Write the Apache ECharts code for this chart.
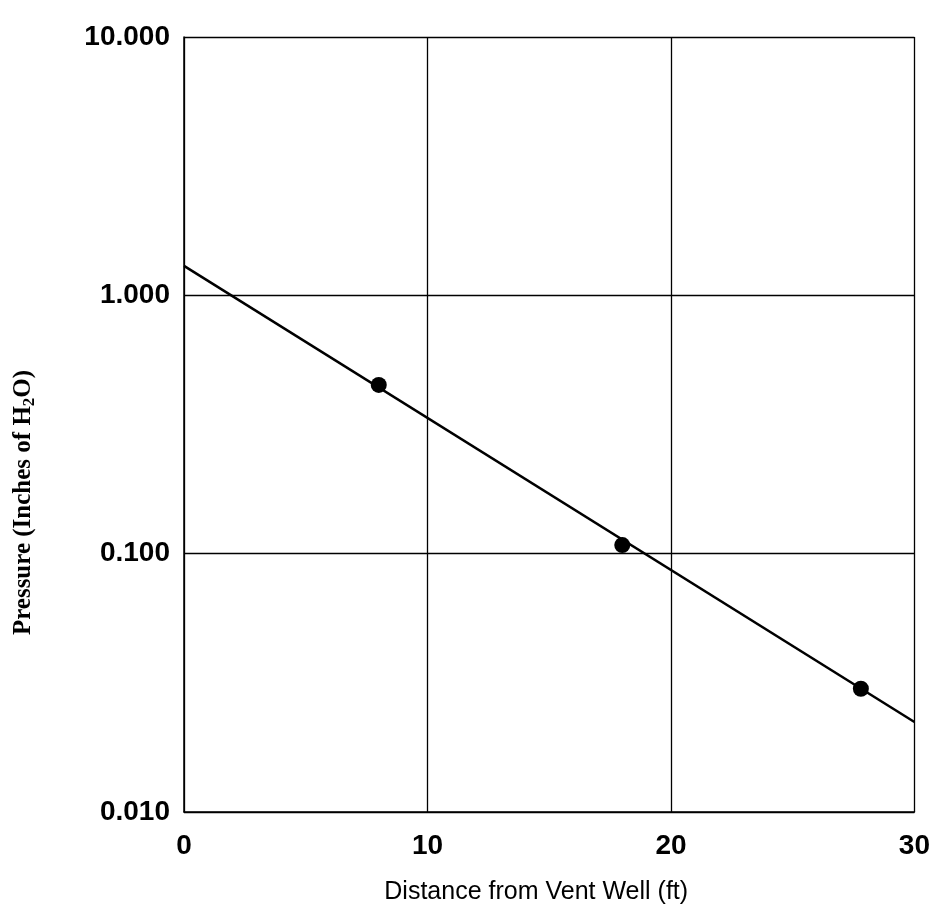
<!DOCTYPE html>
<html>
<head>
<meta charset="utf-8">
<script src="https://cdn.jsdelivr.net/npm/echarts@6/dist/echarts.min.js"></script>
<style>
html,body{margin:0;padding:0;background:#fff;}
#chart{width:933px;height:918px;}
</style>
</head>
<body>
<div id="chart"></div>
<script>
// Measured points: distance (ft) and pressure (inches of H2O)
const distances = [8.0, 18.0, 27.8];
const pressures = [0.45, 0.108, 0.030];
// Fitted trend line end points
const fitX = [0, 30];
const fitY = [1.30, 0.0223];
// Axis ticks
const xTicks = [0, 10, 20, 30];
const yTicks = [0.01, 0.1, 1, 10];

const chart = echarts.init(document.getElementById('chart'));
chart.setOption({
  backgroundColor: '#fff',
  animation: false,
  grid: {left: 184, right: 12, top: 37, bottom: 106},
  xAxis: {
    type: 'value', min: xTicks[0], max: xTicks[xTicks.length - 1], interval: 10,
    name: 'Distance from Vent Well (ft)', nameLocation: 'middle', nameGap: 68,
    nameTextStyle: {fontFamily: 'Liberation Sans', fontSize: 25, color: '#000', padding: [0, 26, 0, 0]},
    axisLine: {show: true, lineStyle: {color: '#000', width: 1.5}},
    axisTick: {show: false},
    axisLabel: {fontFamily: 'Liberation Sans', fontWeight: 'bold', fontSize: 28, color: '#000', margin: 20},
    splitLine: {show: true, lineStyle: {color: '#000', width: 1.3}}
  },
  yAxis: {
    type: 'log', logBase: 10, min: yTicks[0], max: yTicks[yTicks.length - 1],
    name: 'Pressure (Inches of H{sub|2}O)', nameLocation: 'middle', nameGap: 146,
    nameTextStyle: {
      fontFamily: 'Liberation Serif', fontSize: 25, fontWeight: 'bold', color: '#000',
      padding: [0, 156, 0, 0],
      rich: {sub: {fontFamily: 'Liberation Serif', fontSize: 17, fontWeight: 'bold', color: '#000', padding: [12, 0, 0, 0]}}
    },
    axisLine: {show: true, lineStyle: {color: '#000', width: 1.5}},
    axisTick: {show: false},
    axisLabel: {fontFamily: 'Liberation Sans', fontWeight: 'bold', fontSize: 28, color: '#000', margin: 14,
      formatter: v => Number(v).toFixed(3)},
    splitLine: {show: true, lineStyle: {color: '#000', width: 1.3}}
  },
  series: [
    {
      type: 'line', data: fitX.map((x, i) => [x, fitY[i]]),
      symbol: 'none', lineStyle: {color: '#000', width: 2.5}, z: 3
    },
    {
      type: 'scatter', data: distances.map((x, i) => [x, pressures[i]]),
      symbol: 'circle', symbolSize: 16, itemStyle: {color: '#000', opacity: 1}, z: 4
    }
  ]
});
</script>
</body>
</html>
